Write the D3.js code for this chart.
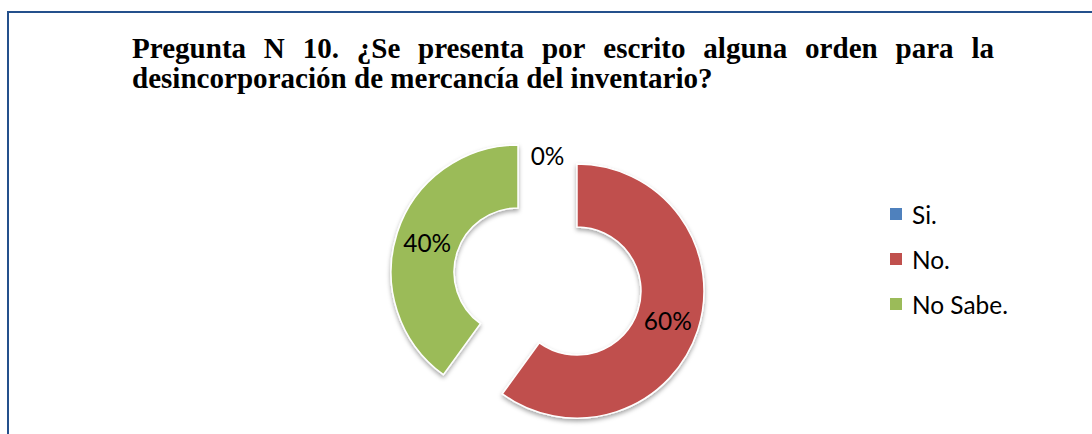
<!DOCTYPE html>
<html><head><meta charset="utf-8">
<script src="https://cdn.jsdelivr.net/npm/d3@7"></script>
<style>html,body{margin:0;padding:0;background:#fff;}svg{display:block;}</style>
</head><body>
<svg id="chart" width="1092" height="434"></svg>
<script>
const titleLine1 = "Pregunta N 10. ¿Se presenta por escrito alguna orden para la";
const titleLine2 = "desincorporación de mercancía del inventario?";
const categories = ["Si.", "No.", "No Sabe."];
const values = [0, 60, 40];
const valueLabels = ["0%", "60%", "40%"];
const colors = ["#4F81BD", "#C0504D", "#9BBB59"];

const svg = d3.select("#chart");
const defs = svg.append("defs");
const f = defs.append("filter").attr("id","sh").attr("x","-20%").attr("y","-20%").attr("width","140%").attr("height","140%");
f.append("feDropShadow").attr("dx",0).attr("dy",2.5).attr("stdDeviation",2).attr("flood-color","#000").attr("flood-opacity",0.35);

// border
svg.append("rect").attr("x",8).attr("y",12).attr("width",1200).attr("height",600)
  .attr("fill","none").attr("stroke","#24508c").attr("stroke-width",2);

// Title (justified first line)
const titleFont = "'Liberation Serif','Times New Roman',serif";
const tX0 = 132, tX1 = 994;
const t2 = svg.append("text").attr("x",tX0).attr("y",88)
  .attr("font-family",titleFont).attr("font-weight","bold").attr("font-size",24).text(titleLine2);
let w2 = t2.node().getComputedTextLength();
const tSize = 24 * 581 / w2;
t2.attr("font-size", tSize);
const words = titleLine1.split(" ");
const tmp = words.map(w => svg.append("text").attr("font-family",titleFont).attr("font-weight","bold")
  .attr("font-size",tSize).attr("y",58).text(w));
const ws = tmp.map(t => t.node().getComputedTextLength());
const gap = ((tX1 - tX0) - d3.sum(ws)) / (words.length - 1);
let cx = tX0;
tmp.forEach((t,i) => { t.attr("x",cx); cx += ws[i] + gap; });

// Donut
const base = [547.5, 281.5], explode = 31, R = 127, r = 64;
const pie = d3.pie().sort(null).value(d => d)(values);
const arc = d3.arc().innerRadius(r).outerRadius(R);
const labelFont = "Lato, 'Open Sans', sans-serif";
const g = svg.append("g");
pie.forEach((p,i) => {
  const a = (p.startAngle + p.endAngle)/2;
  const ox = base[0] + Math.sin(a)*explode, oy = base[1] - Math.cos(a)*explode;
  const gg = g.append("g").attr("transform",`translate(${ox},${oy})`);
  if (p.endAngle > p.startAngle) {
    gg.append("path").attr("d",arc(p)).attr("fill",colors[i])
      .attr("stroke","#fff").attr("stroke-width",1.5).attr("filter","url(#sh)");
  }
});
// measure legend font
const probe = svg.append("text").attr("font-family",labelFont).attr("font-size",20).text("No Sabe.");
const lSize = 20 * 96 / probe.node().getComputedTextLength();
probe.remove();
pie.forEach((p,i) => {
  const a = (p.startAngle + p.endAngle)/2;
  const ox = base[0] + Math.sin(a)*explode, oy = base[1] - Math.cos(a)*explode;
  const c = arc.centroid(p);
  svg.append("text").attr("x",ox + c[0]).attr("y",oy + c[1])
    .attr("text-anchor","middle").attr("dominant-baseline","central")
    .attr("font-family",labelFont).attr("font-size",lSize).attr("fill","#000").text(valueLabels[i]);
});

// Legend
const ly = d3.scalePoint().domain(categories).range([214, 304]);
categories.forEach((c,i) => {
  svg.append("rect").attr("x",890).attr("y",ly(c)-6).attr("width",12).attr("height",12).attr("fill",colors[i]);
  svg.append("text").attr("x",912).attr("y",ly(c)).attr("dominant-baseline","central")
    .attr("font-family",labelFont).attr("font-size",lSize).attr("fill","#000").text(c);
});
</script>
</body></html>
